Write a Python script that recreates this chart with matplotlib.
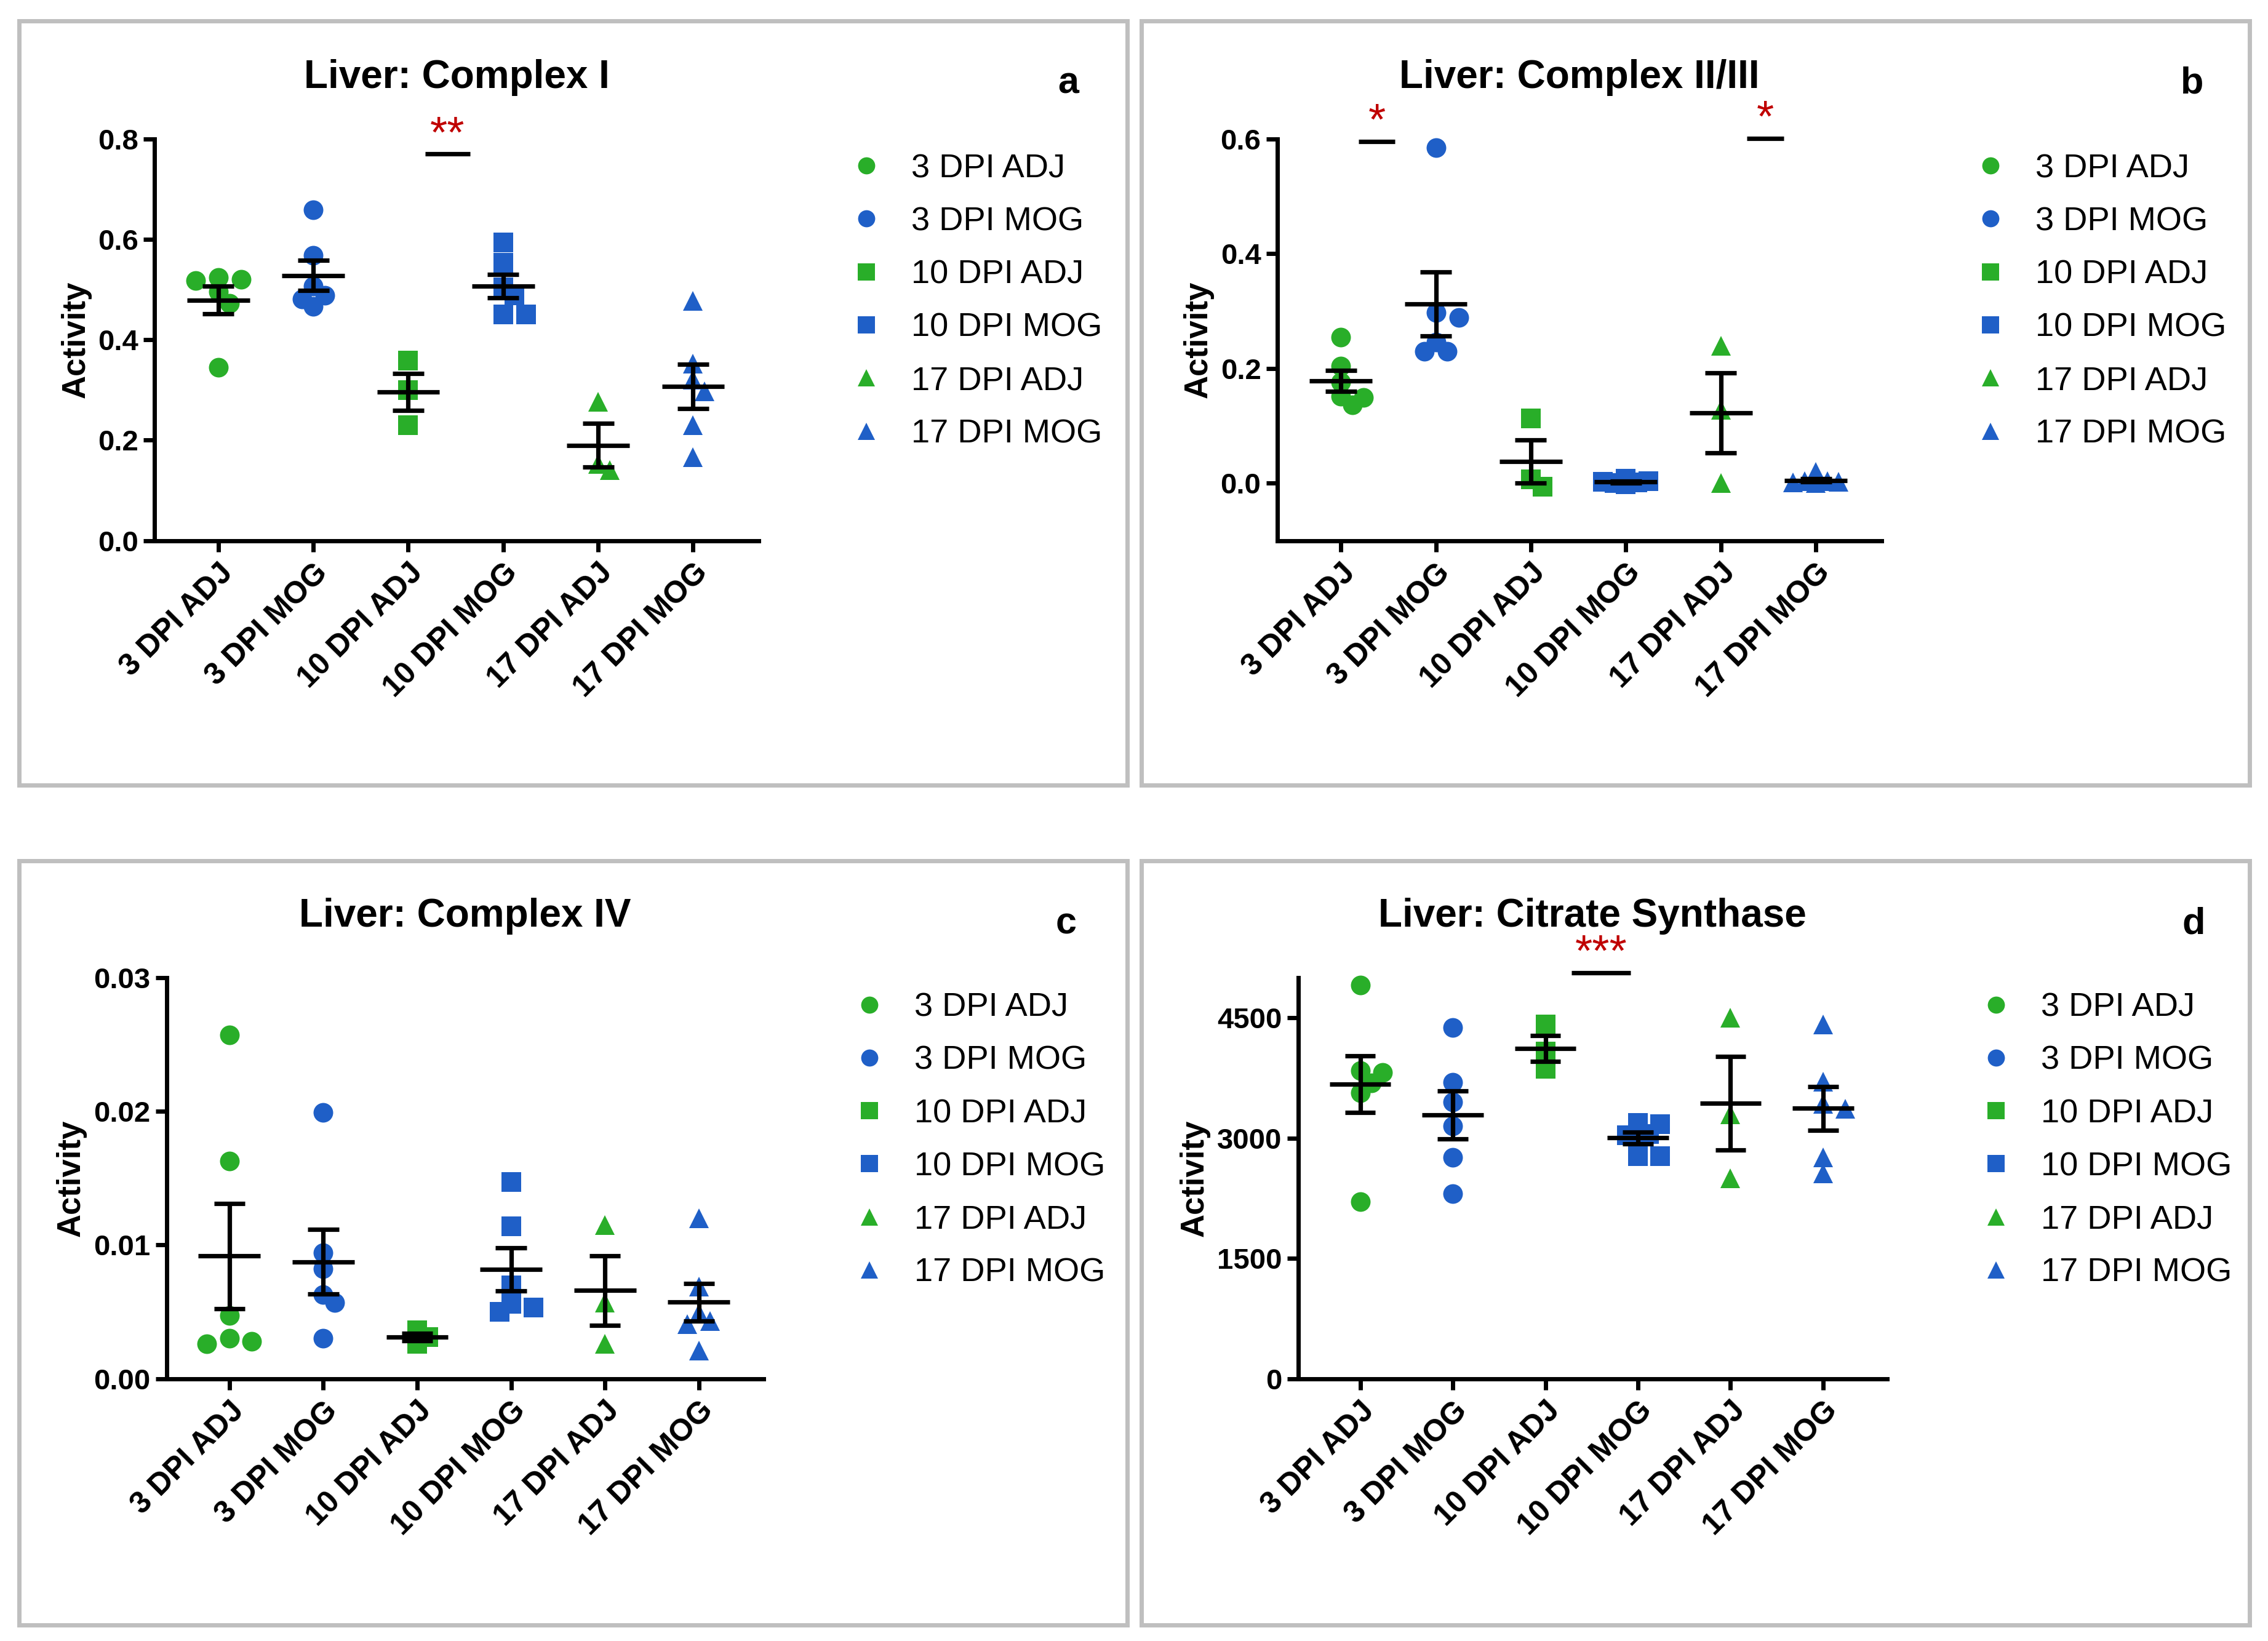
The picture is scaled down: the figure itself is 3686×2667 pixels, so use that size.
import numpy as np
import matplotlib
matplotlib.use('Agg')
import matplotlib.pyplot as plt
from matplotlib.lines import Line2D
from matplotlib.patches import Rectangle

plt.rcParams['font.family'] = ['Liberation Sans', 'DejaVu Sans']

GREEN = '#29AE29'
BLUE = '#1F5FC7'
STAR_RED = '#C00000'

groups = ['3 DPI ADJ', '3 DPI MOG', '10 DPI ADJ', '10 DPI MOG', '17 DPI ADJ', '17 DPI MOG']
group_colors = [GREEN, BLUE, GREEN, BLUE, GREEN, BLUE]
group_markers = ['o', 'o', 's', 's', '^', '^']

# values, one list per group
complex1 = [[0.524, 0.520, 0.518, 0.496, 0.472, 0.345],
            [0.659, 0.568, 0.507, 0.489, 0.481, 0.466],
            [0.358, 0.300, 0.230],
            [0.594, 0.553, 0.504, 0.489, 0.451, 0.451],
            [0.277, 0.153, 0.140],
            [0.478, 0.352, 0.320, 0.297, 0.230, 0.166]]

complex23 = [[0.254, 0.204, 0.176, 0.152, 0.149, 0.136],
             [0.585, 0.297, 0.289, 0.246, 0.230, 0.230],
             [0.113, 0.007, -0.006],
             [0.008, 0.004, 0.002, 0.001, 0.000, -0.002],
             [0.240, 0.128, 0.000],
             [0.020, 0.004, 0.003, 0.002, 0.001, 0.000]]

complex4 = [[0.0257, 0.0163, 0.0047, 0.0030, 0.0028, 0.0026],
            [0.0199, 0.0094, 0.0082, 0.0063, 0.0057, 0.0030],
            [0.0036, 0.0031, 0.0026],
            [0.0147, 0.0114, 0.0070, 0.0056, 0.0053, 0.0050],
            [0.0115, 0.0057, 0.0026],
            [0.0120, 0.0069, 0.0049, 0.0043, 0.0041, 0.0021]]

citrate = [[4906, 3842, 3822, 3684, 3566, 2207],
           [4382, 3692, 3448, 3152, 2758, 2305],
           [4413, 4078, 3862],
           [3192, 3172, 3054, 3034, 2778, 2778],
           [4500, 3300, 2500],
           [4413, 3704, 3428, 3369, 2758, 2561]]

# significance: (x from, x to, bar level, stars)
sig_a = [(2.18, 2.65, 0.77, '**')]
sig_b = [(0.19, 0.57, 0.596, '*'), (4.27, 4.66, 0.601, '*')]
sig_c = []
sig_d = [(2.28, 2.92, 5063, '***')]

panels = [
    dict(title='Liver: Complex I', letter='a', data=complex1, ylim=(0, 0.8),
         yticks=[0.0, 0.2, 0.4, 0.6, 0.8], fmt='{:.1f}', sig=sig_a),
    dict(title='Liver: Complex II/III', letter='b', data=complex23, ylim=(-0.1, 0.6),
         yticks=[0.0, 0.2, 0.4, 0.6], fmt='{:.1f}', sig=sig_b),
    dict(title='Liver: Complex IV', letter='c', data=complex4, ylim=(0, 0.03),
         yticks=[0.0, 0.01, 0.02, 0.03], fmt='{:.2f}', sig=sig_c),
    dict(title='Liver: Citrate Synthase', letter='d', data=citrate, ylim=(0, 5000),
         yticks=[0, 1500, 3000, 4500], fmt='{:.0f}', sig=sig_d),
]

# layout (figure fractions)
axes_rects = [[0.0682, 0.6706, 0.2663, 0.2447],
              [0.5631, 0.6706, 0.2665, 0.2447],
              [0.0734, 0.1599, 0.2633, 0.2443],
              [0.5724, 0.1599, 0.2596, 0.2443]]
box_rects = [[0.0083, 0.5216, 0.4887, 0.4655],
             [0.5033, 0.5216, 0.4886, 0.4655],
             [0.0083, 0.0098, 0.4887, 0.4655],
             [0.5033, 0.0098, 0.4886, 0.4655]]
legend_anchor = [(0.3747, 0.9066), (0.8702, 0.9066), (0.3760, 0.3954), (0.8727, 0.3954)]
letter_pos = [(0.4711, 0.9431), (0.9666, 0.9431), (0.4701, 0.4311), (0.9672, 0.4311)]

MS = 11.5
LW = 2.6
fig = plt.figure(figsize=(18.43, 13.335), dpi=200)

for r in box_rects:
    fig.patches.append(Rectangle((r[0], r[1]), r[2], r[3], transform=fig.transFigure,
                                 fill=False, edgecolor='#BFBFBF', linewidth=2.5))


def swarm(ax, x0, vals, step=0.12, dmin=21.0, nmax=2):
    # spread points sideways when they would overlap, GraphPad style
    placed = []
    res = np.zeros(len(vals))
    cands = [0.0]
    for k in range(1, nmax + 1):
        cands += [k * step, -k * step]
    for k in np.argsort(vals)[::-1]:
        best, best_d = 0.0, -1.0
        for o in cands:
            p = ax.transData.transform((x0 + o, vals[k]))
            d = min([np.hypot(*(p - q)) for q in placed], default=1e9)
            if d >= dmin:
                best = o
                break
            if d > best_d:
                best, best_d = o, d
        placed.append(ax.transData.transform((x0 + best, vals[k])))
        res[k] = best
    return res


for n, pan in enumerate(panels):
    ax = fig.add_axes(axes_rects[n])
    ax.set_xlim(-0.67, 5.69)
    ax.set_ylim(*pan['ylim'])
    for s in ['top', 'right']:
        ax.spines[s].set_visible(False)
    for s in ['left', 'bottom']:
        ax.spines[s].set_linewidth(2.5)

    for i, vals in enumerate(pan['data']):
        vals = np.array(vals, dtype=float)
        offs = swarm(ax, i, vals)
        ax.plot(i + offs, vals, ls='none', marker=group_markers[i], ms=MS,
                color=group_colors[i], mew=0, zorder=2, clip_on=False)
        m = vals.mean()
        se = vals.std(ddof=1) / np.sqrt(len(vals))
        ax.hlines(m, i - 0.33, i + 0.33, color='black', lw=LW, zorder=3)
        ax.vlines(i, m - se, m + se, color='black', lw=LW, zorder=3)
        ax.hlines([m - se, m + se], i - 0.165, i + 0.165, color='black', lw=LW, zorder=3)

    for x1, x2, yb, stars in pan['sig']:
        ax.hlines(yb, x1, x2, color='black', lw=LW, clip_on=False)
        ax.annotate(stars, xy=((x1 + x2) / 2, yb), xytext=(0, 4),
                    textcoords='offset points', color=STAR_RED, fontsize=26,
                    ha='center', va='baseline', annotation_clip=False)

    ax.set_xticks(range(len(groups)), labels=groups, rotation=45, ha='right',
                  rotation_mode='anchor', fontweight='bold')
    ax.set_yticks(pan['yticks'], labels=[pan['fmt'].format(t) for t in pan['yticks']],
                  fontweight='bold')
    ax.tick_params(axis='both', width=2.5, length=6.4)
    ax.tick_params(axis='y', pad=3, labelsize=17)
    ax.tick_params(axis='x', pad=4, labelsize=18)
    ax.set_ylabel('Activity', fontsize=19, fontweight='bold', labelpad=4)
    ax.set_title(pan['title'], fontsize=23, fontweight='bold', pad=30)

    handles = [Line2D([], [], ls='none', marker=group_markers[i], ms=10,
                      color=group_colors[i], mew=0) for i in range(len(groups))]
    ax.legend(handles, groups, loc='upper left', bbox_to_anchor=legend_anchor[n],
              bbox_transform=fig.transFigure, frameon=False, borderpad=0,
              borderaxespad=0, handlelength=1.0, handletextpad=0.85,
              labelspacing=0.67, fontsize=19.5)

    fig.text(letter_pos[n][0], letter_pos[n][1], pan['letter'], fontsize=22,
             fontweight='bold', ha='center', va='baseline')

fig.savefig('out.png', dpi=200, facecolor='white')
